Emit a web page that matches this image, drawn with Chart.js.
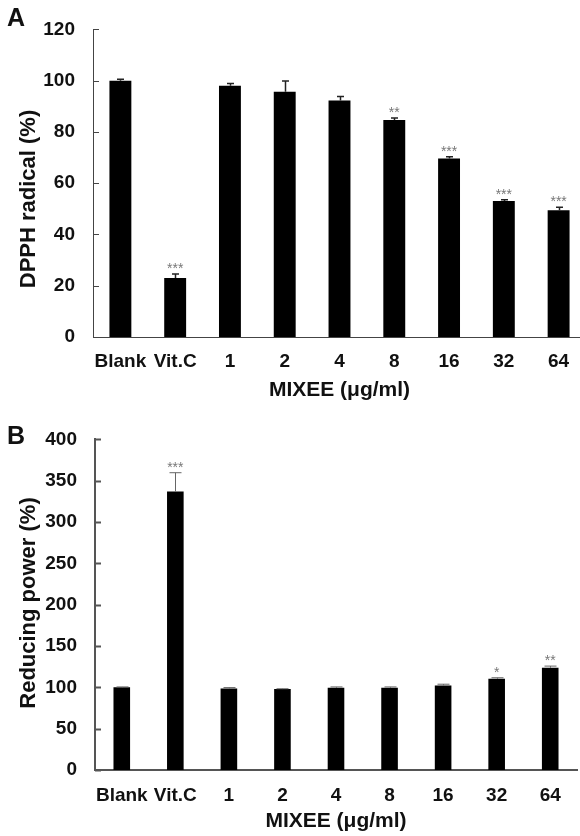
<!DOCTYPE html>
<html lang="en">
<head>
<meta charset="UTF-8">
<title>DPPH radical and reducing power of MIXEE</title>
<script src="https://cdn.jsdelivr.net/npm/chart.js@4.4.1/dist/chart.umd.min.js"></script>
<style>
  html, body { margin: 0; padding: 0; background: #fff; overflow: hidden; }
  #wrap { position: relative; width: 580px; height: 836px; overflow: hidden; }
  #chartA { position: absolute; left: 0; top: 0; }
  #chartB { position: absolute; left: 0; top: 410px; }
</style>
</head>
<body>
<div id="wrap">
  <canvas id="chartA" width="586" height="410"></canvas>
  <canvas id="chartB" width="580" height="426"></canvas>
</div>
<script>
const categories = ['Blank', 'Vit.C', '1', '2', '4', '8', '16', '32', '64'];

// Panel A - DPPH radical (%)
const dpphValues = [100, 23, 98, 95.7, 92.3, 84.7, 69.6, 53.1, 49.4];
const dpphErrors = [0.6, 1.6, 0.9, 4.2, 1.5, 0.7, 0.7, 0.4, 1.2];
const dpphStars = ['', '***', '', '', '', '**', '***', '***', '***'];
const dpphTicks = [0, 20, 40, 60, 80, 100, 120];

// Panel B - Reducing power (%)
const reducingValues = [100, 337, 98.7, 97.9, 99.5, 99.5, 102.3, 110.4, 123.7];
const reducingErrors = [0.5, 22.7, 1, 0.4, 1, 1, 1.5, 1.2, 2];
const reducingStars = ['', '***', '', '', '', '', '', '*', '**'];
const reducingTicks = [0, 50, 100, 150, 200, 250, 300, 350, 400];

const FONT = "'Liberation Sans', Arial, sans-serif";

// error bars, significance stars, inward y ticks, panel letter and y title
const extras = {
  id: 'extras',
  afterDraw(chart, args, opts) {
    const ctx = chart.ctx;
    const area = chart.chartArea;
    const y = chart.scales.y;
    const bars = chart.getDatasetMeta(0).data;
    const values = chart.data.datasets[0].data;
    ctx.save();

    ctx.strokeStyle = opts.axisColor;
    ctx.lineWidth = opts.axisWidth;
    y.ticks.forEach(t => {
      const py = Math.round(y.getPixelForValue(t.value)) + 0.5;
      ctx.beginPath();
      ctx.moveTo(area.left, py);
      ctx.lineTo(area.left + 6, py);
      ctx.stroke();
    });

    bars.forEach((bar, i) => {
      const x = Math.round(bar.x) + 0.5;
      const top = y.getPixelForValue(values[i] + opts.errors[i]);
      ctx.strokeStyle = opts.errColor;
      ctx.lineWidth = opts.errWidth;
      ctx.beginPath();
      ctx.moveTo(x, bar.y);
      ctx.lineTo(x, top);
      ctx.moveTo(x - opts.capWidth / 2, top);
      ctx.lineTo(x + opts.capWidth / 2, top);
      ctx.stroke();
      if (opts.stars[i]) {
        ctx.fillStyle = '#777';
        ctx.font = '14px ' + FONT;
        ctx.textAlign = 'center';
        ctx.textBaseline = 'alphabetic';
        ctx.fillText(opts.stars[i], bar.x, top - 1);
      }
    });

    ctx.fillStyle = '#111';
    ctx.font = 'bold 25px ' + FONT;
    ctx.textAlign = 'left';
    ctx.textBaseline = 'middle';
    ctx.fillText(opts.letter, 7, opts.letterY);

    ctx.translate(29, opts.titleY);
    ctx.rotate(-Math.PI / 2);
    ctx.font = 'bold 22px ' + FONT;
    ctx.textAlign = 'center';
    ctx.fillText(opts.yTitle, 0, 0);
    ctx.restore();
  }
};

function makeChart(id, cfg) {
  return new Chart(document.getElementById(id), {
    type: 'bar',
    data: {
      labels: categories,
      datasets: [{
        data: cfg.values,
        backgroundColor: '#000',
        borderWidth: 0,
        barPercentage: cfg.barPct,
        categoryPercentage: 1
      }]
    },
    options: {
      responsive: false,
      animation: false,
      devicePixelRatio: 1,
      layout: { padding: { top: cfg.padTop, right: cfg.padRight, left: 0, bottom: 0 } },
      plugins: {
        legend: { display: false },
        tooltip: { enabled: false },
        extras: {
          errors: cfg.errors, stars: cfg.stars, letter: cfg.letter, letterY: cfg.letterY,
          yTitle: cfg.yTitle, titleY: cfg.titleY, capWidth: cfg.capWidth,
          errColor: cfg.errColor, errWidth: cfg.errWidth,
          axisColor: cfg.axisColor, axisWidth: cfg.axisWidth
        }
      },
      scales: {
        x: {
          grid: { display: false, drawTicks: false },
          border: { display: true, color: cfg.axisColor, width: cfg.axisWidth },
          ticks: { color: '#111', font: { family: FONT, size: 19, weight: 'bold' }, padding: cfg.xPad, maxRotation: 0, autoSkip: false },
          title: { display: true, text: 'MIXEE (μg/ml)', color: '#111', font: { family: FONT, size: 21, weight: 'bold' }, padding: { top: 0, bottom: cfg.xTitlePad } },
          afterFit: s => { s.height = cfg.xHeight; }
        },
        y: {
          min: cfg.ticks[0],
          max: cfg.ticks[cfg.ticks.length - 1],
          afterBuildTicks: s => { s.ticks = cfg.ticks.map(v => ({ value: v })); },
          grid: { display: false, drawTicks: false },
          border: { display: true, color: cfg.axisColor, width: cfg.axisWidth },
          ticks: { color: '#111', font: { family: FONT, size: 19, weight: 'bold' }, padding: 18 },
          afterFit: s => { s.width = cfg.yWidth; }
        }
      }
    },
    plugins: [extras]
  });
}

makeChart('chartA', {
  values: dpphValues, errors: dpphErrors, stars: dpphStars, ticks: dpphTicks,
  letter: 'A', letterY: 19, yTitle: 'DPPH radical (%)', titleY: 199,
  barPct: 0.4, capWidth: 7, errColor: '#222', errWidth: 1.5,
  axisColor: '#444', axisWidth: 1,
  padTop: 20, padRight: 0, yWidth: 93, xHeight: 73, xPad: 13, xTitlePad: 7
});

makeChart('chartB', {
  values: reducingValues, errors: reducingErrors, stars: reducingStars, ticks: reducingTicks,
  letter: 'B', letterY: 27, yTitle: 'Reducing power (%)', titleY: 193,
  barPct: 0.31, capWidth: 12, errColor: '#666', errWidth: 1,
  axisColor: '#555', axisWidth: 2,
  padTop: 29, padRight: 3, yWidth: 95, xHeight: 66, xPad: 14, xTitlePad: 2
});
</script>
</body>
</html>
